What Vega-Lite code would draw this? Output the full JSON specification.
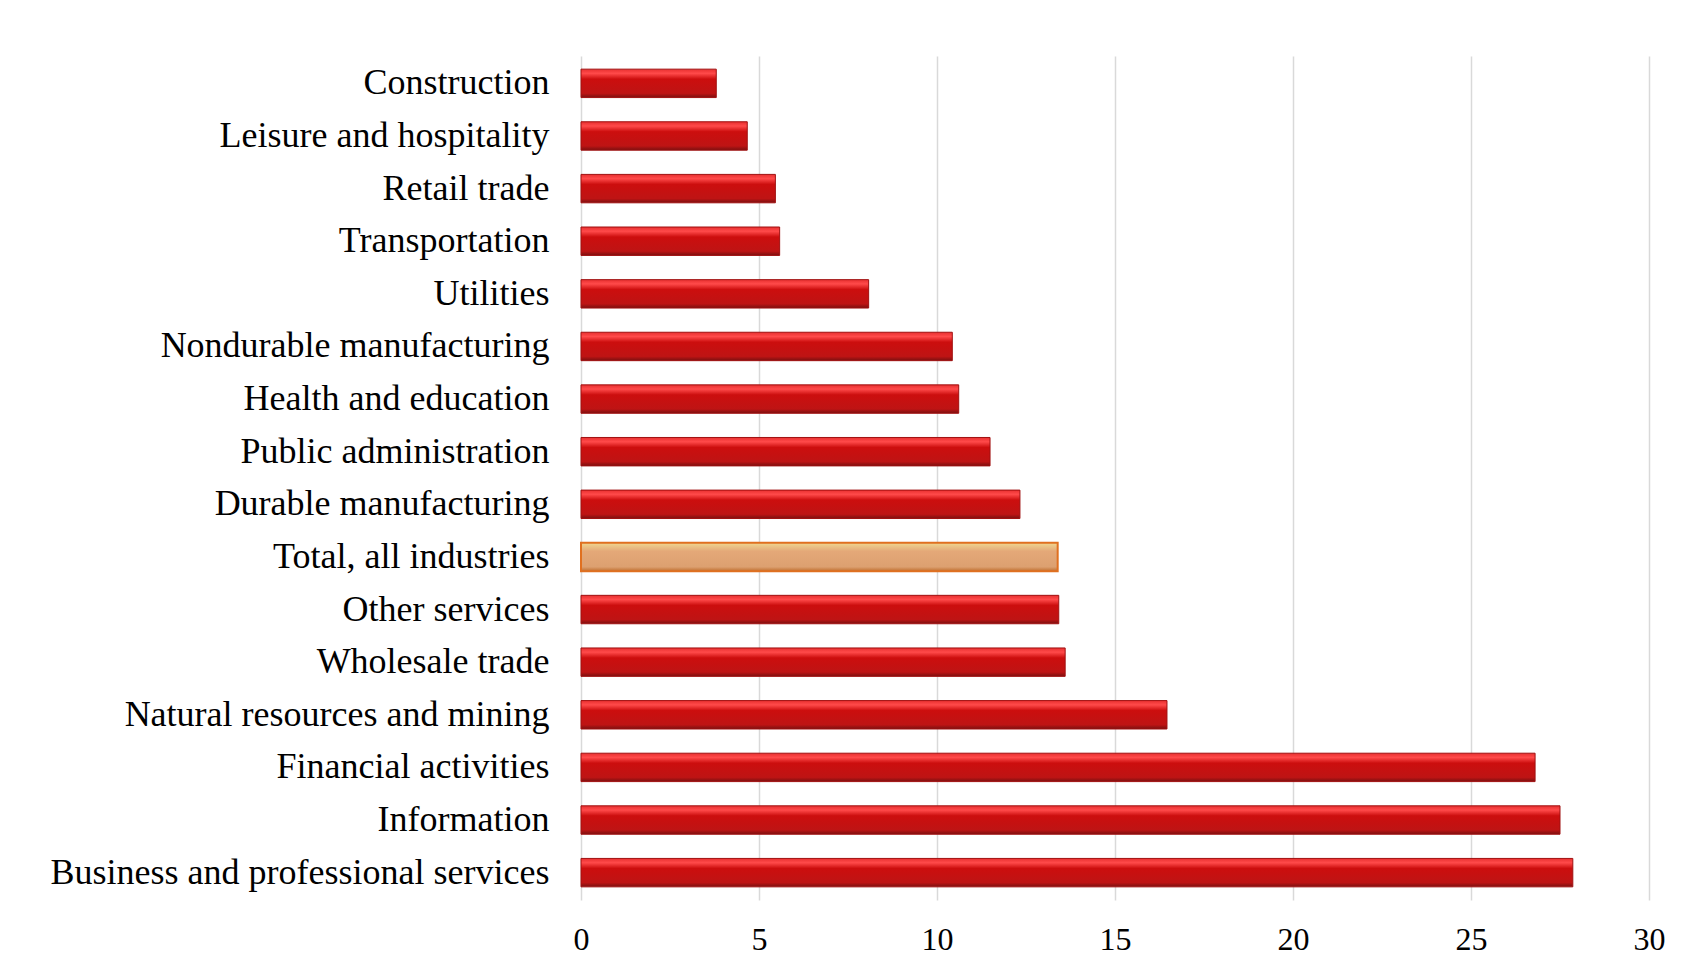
{
  "$schema": "https://vega.github.io/schema/vega-lite/v6.json",
  "autosize": {"type": "none"},
  "padding": {"left": 581, "top": 56, "right": 34, "bottom": 67},
  "width": 1068,
  "height": 844,
  "background": "white",
  "config": {
    "view": {"stroke": null},
    "font": "Liberation Serif",
    "axis": {"labelFont": "Liberation Serif", "labelColor": "#000000"}
  },
  "data": {
    "values": [
      {"industry": "Construction", "value": 3.8},
      {"industry": "Leisure and hospitality", "value": 4.67},
      {"industry": "Retail trade", "value": 5.46},
      {"industry": "Transportation", "value": 5.58},
      {"industry": "Utilities", "value": 8.08},
      {"industry": "Nondurable manufacturing", "value": 10.43},
      {"industry": "Health and education", "value": 10.61},
      {"industry": "Public administration", "value": 11.49},
      {"industry": "Durable manufacturing", "value": 12.33},
      {"industry": "Total, all industries", "value": 13.39},
      {"industry": "Other services", "value": 13.42},
      {"industry": "Wholesale trade", "value": 13.6},
      {"industry": "Natural resources and mining", "value": 16.46},
      {"industry": "Financial activities", "value": 26.8},
      {"industry": "Information", "value": 27.5},
      {"industry": "Business and professional services", "value": 27.86}
    ]
  },
  "encoding": {
    "y": {
      "field": "industry", "type": "nominal", "sort": null,
      "scale": {
        "domain": ["Construction", "Leisure and hospitality", "Retail trade", "Transportation", "Utilities", "Nondurable manufacturing", "Health and education", "Public administration", "Durable manufacturing", "Total, all industries", "Other services", "Wholesale trade", "Natural resources and mining", "Financial activities", "Information", "Business and professional services"],
        "paddingInner": 0.46, "paddingOuter": 0.25
      },
      "axis": {"title": null, "domain": false, "ticks": false, "labelFontSize": 36, "labelPadding": 32, "labelLimit": 600}
    },
    "x": {
      "field": "value", "type": "quantitative",
      "scale": {"domain": [0, 30], "nice": false},
      "axis": {"title": null, "domain": false, "ticks": false, "values": [0, 5, 10, 15, 20, 25, 30], "labelFontSize": 32, "labelPadding": 24, "gridColor": "#d9d9d9", "gridWidth": 1.5, "labelFlush": false}
    }
  },
  "layer": [
    {
      "transform": [{"filter": "datum.industry !== 'Total, all industries'"}],
      "mark": {
        "type": "bar",
        "stroke": "#a01010",
        "strokeWidth": 1,
        "color": {
          "gradient": "linear", "x1": 0, "y1": 0, "x2": 0, "y2": 1,
          "stops": [
            {"offset": 0, "color": "#e83030"},
            {"offset": 0.15, "color": "#ff4a4a"},
            {"offset": 0.35, "color": "#cc0e0e"},
            {"offset": 0.85, "color": "#be1414"},
            {"offset": 1, "color": "#7a1010"}
          ]
        }
      }
    },
    {
      "transform": [{"filter": "datum.industry === 'Total, all industries'"}],
      "mark": {
        "type": "bar",
        "stroke": "#e07020",
        "strokeWidth": 2,
        "color": {
          "gradient": "linear", "x1": 0, "y1": 0, "x2": 0, "y2": 1,
          "stops": [
            {"offset": 0, "color": "#f0d890"},
            {"offset": 0.3, "color": "#e4a878"},
            {"offset": 0.85, "color": "#dca070"},
            {"offset": 1, "color": "#c07030"}
          ]
        }
      }
    }
  ]
}
